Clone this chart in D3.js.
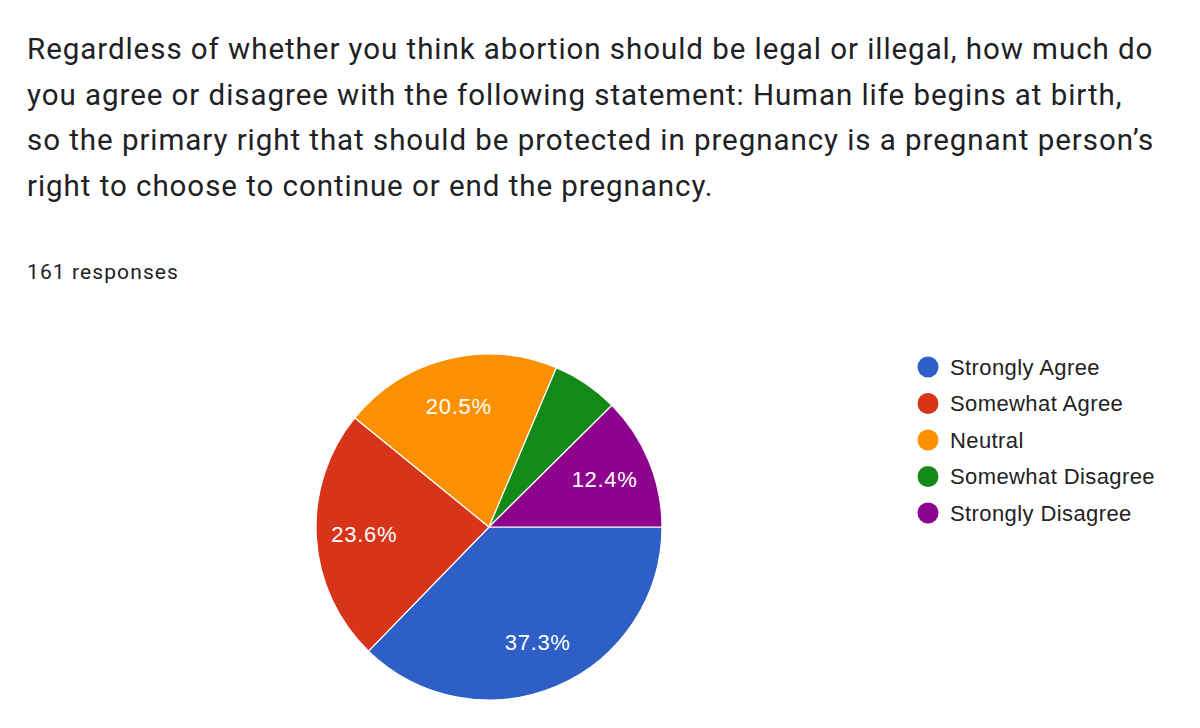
<!DOCTYPE html>
<html>
<head>
<meta charset="utf-8">
<script src="https://cdn.jsdelivr.net/npm/d3@7"></script>
<style>
  body { margin: 0; background: #fff; }
</style>
</head>
<body>
<script>
// survey data
var categories = ["Strongly Agree", "Somewhat Agree", "Neutral", "Somewhat Disagree", "Strongly Disagree"];
var counts = [60, 38, 33, 10, 20];
var colors = ["#2e5fc6", "#d8341a", "#fb9100", "#138a18", "#8e038e"];
var titleLines = [
  "Regardless of whether you think abortion should be legal or illegal, how much do",
  "you agree or disagree with the following statement: Human life begins at birth,",
  "so the primary right that should be protected in pregnancy is a pregnant person\u2019s",
  "right to choose to continue or end the pregnancy."
];
var responsesLabel = "161 responses";

var width = 1200, height = 728;
var svg = d3.select("body").append("svg")
    .attr("width", width)
    .attr("height", height);

// title
svg.append("g").selectAll("text")
    .data(titleLines)
  .enter().append("text")
    .attr("x", 27)
    .attr("y", function(d, i) { return 59 + i * 45.7; })
    .style("font-family", "Roboto, 'Noto Sans', sans-serif")
    .style("font-size", "29.5px")
    .style("letter-spacing", "0.95px")
    .style("fill", "#202124")
    .text(function(d) { return d; });

svg.append("text")
    .attr("x", 27)
    .attr("y", 279)
    .style("font-family", "Roboto, 'Noto Sans', sans-serif")
    .style("font-size", "21px")
    .style("letter-spacing", "1.1px")
    .style("fill", "#202124")
    .text(responsesLabel);

// pie
var radius = 173;
var total = d3.sum(counts);
var pie = d3.pie()
    .sort(null)
    .startAngle(Math.PI / 2)
    .endAngle(Math.PI / 2 + 2 * Math.PI)
    .value(function(d) { return d; });
var arc = d3.arc().innerRadius(0).outerRadius(radius);
var labelArc = d3.arc().innerRadius(125).outerRadius(125);

var g = svg.append("g")
    .attr("transform", "translate(489,527)");

var arcs = pie(counts);

g.selectAll("path")
    .data(arcs)
  .enter().append("path")
    .attr("d", arc)
    .attr("fill", function(d, i) { return colors[i]; })
    .attr("stroke", "#fff")
    .attr("stroke-width", 1.2);

g.selectAll("text.lbl")
    .data(arcs.filter(function(d) { return d.value / total >= 0.1; }))
  .enter().append("text")
    .attr("class", "lbl")
    .attr("transform", function(d) { return "translate(" + labelArc.centroid(d) + ")"; })
    .attr("text-anchor", "middle")
    .attr("dy", "0.36em")
    .style("font-family", "'Liberation Sans', Arial, sans-serif")
    .style("font-size", "22px")
    .style("letter-spacing", "0.7px")
    .style("fill", "#fff")
    .text(function(d) { return (d.value / total * 100).toFixed(1) + "%"; });

// legend
var legend = svg.append("g").selectAll("g")
    .data(categories)
  .enter().append("g")
    .attr("transform", function(d, i) { return "translate(928," + (367 + i * 36.5) + ")"; });

legend.append("circle")
    .attr("r", 10.5)
    .attr("fill", function(d, i) { return colors[i]; });

legend.append("text")
    .attr("x", 22)
    .attr("dy", "0.36em")
    .style("font-family", "'Liberation Sans', Arial, sans-serif")
    .style("font-size", "22px")
    .style("letter-spacing", "0.4px")
    .style("fill", "#222")
    .text(function(d) { return d; });
</script>
</body>
</html>
